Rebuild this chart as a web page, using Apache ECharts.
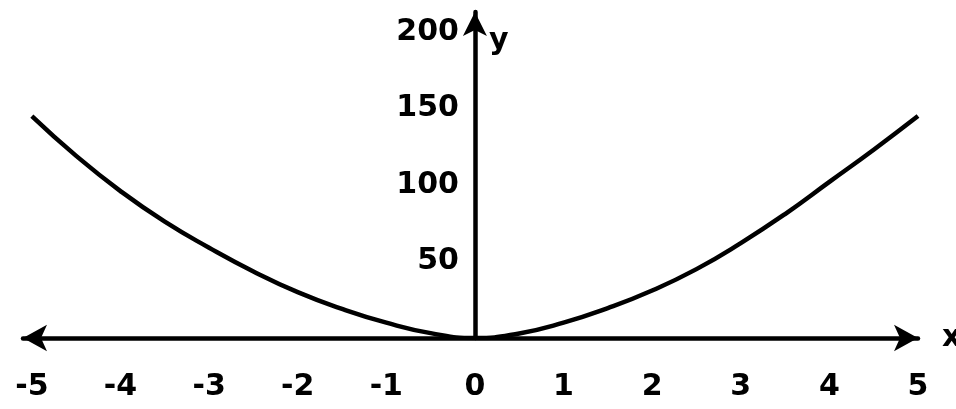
<!DOCTYPE html>
<html>
<head>
<meta charset="utf-8">
<style>
  html, body { margin: 0; padding: 0; background: #ffffff; }
  #chart { width: 956px; height: 409px; }
</style>
<script src="https://cdn.jsdelivr.net/npm/echarts@6/dist/echarts.min.js"></script>
</head>
<body>
<div id="chart"></div>
<script>
// Points along the curve y against x
const xValues = [-5, -4.5, -4, -3.5, -3, -2.5, -2, -1.5, -1, -0.5, 0, 0.5, 1, 1.5, 2, 2.5, 3, 3.5, 4, 4.5, 5];
const yValues = [145, 119, 96, 76, 59, 43.5, 30, 19, 10, 3.2, 0, 3, 10, 19.5, 31, 45, 62, 81, 102, 123, 145];

// Tick labels on each axis
const xTicks = [-5, -4, -3, -2, -1, 0, 1, 2, 3, 4, 5];
const yTicks = [50, 100, 150, 200];

const seriesData = xValues.map((x, i) => [x, yValues[i]]);

const ink = '#000000';
const labelFont = { color: ink, fontFamily: 'DejaVu Sans', fontWeight: 'bold', fontSize: 30 };

// plot box
const gridLeft = 23, gridRight = 38, chartWidth = 956;
const xMin = -5.1, xMax = 5;
// horizontal distance from the left edge of the plot box to x = 0
const zeroShift = (0 - xMin) / (xMax - xMin) * (chartWidth - gridLeft - gridRight);

const chart = echarts.init(document.getElementById('chart'), null, { renderer: 'canvas' });

chart.setOption({
  backgroundColor: '#ffffff',
  animation: false,
  grid: { left: gridLeft, right: gridRight, top: 12, bottom: 71, containLabel: false, outerBoundsMode: 'none' },
  xAxis: {
    type: 'value',
    min: xMin,
    max: xMax,
    name: 'x',
    nameLocation: 'end',
    nameGap: 24,
    nameTextStyle: Object.assign({}, labelFont, { verticalAlign: 'middle' }),
    axisLine: {
      onZero: true,
      symbol: ['arrow', 'arrow'],
      symbolSize: [20, 24],
      lineStyle: { color: ink, width: 4.5 }
    },
    axisTick: { show: false },
    splitLine: { show: false },
    axisLabel: Object.assign({}, labelFont, {
      customValues: xTicks,
      margin: 34,
      formatter: v => String(v)
    })
  },
  yAxis: {
    type: 'value',
    min: 0,
    max: 213,
    position: 'left',
    offset: -zeroShift,
    name: 'y',
    nameLocation: 'end',
    nameGap: -44,
    nameTextStyle: Object.assign({}, labelFont, { align: 'left', padding: [0, 0, 0, 14] }),
    axisLine: {
      onZero: false,
      symbol: ['none', 'arrow'],
      symbolSize: [18, 24],
      lineStyle: { color: ink, width: 4.5 }
    },
    axisTick: { show: false },
    splitLine: { show: false },
    axisLabel: Object.assign({}, labelFont, {
      customValues: yTicks,
      margin: 16,
      formatter: v => String(v)
    })
  },
  series: [{
    type: 'line',
    data: seriesData,
    smooth: 0.5,
    symbol: 'none',
    lineStyle: { color: ink, width: 4.5 },
    z: 3
  }]
});
</script>
</body>
</html>
